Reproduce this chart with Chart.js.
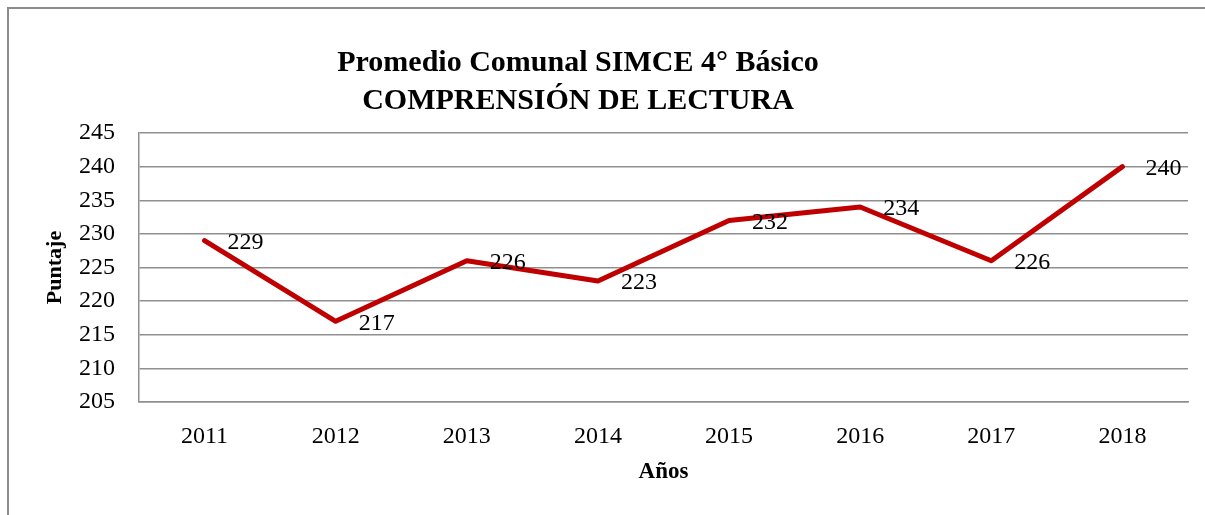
<!DOCTYPE html>
<html>
<head>
<meta charset="utf-8">
<script src="https://cdn.jsdelivr.net/npm/chart.js@4"></script>
<style>
  html, body { margin: 0; padding: 0; background: #fff; }
  #wrap { width: 1205px; height: 515px; position: relative; }
</style>
</head>
<body>
<div id="wrap"><canvas id="simceChart"></canvas></div>
<script>
const years = ['2011', '2012', '2013', '2014', '2015', '2016', '2017', '2018'];
const puntajes = [229, 217, 226, 223, 232, 234, 226, 240];
const yTicks = [205, 210, 215, 220, 225, 230, 235, 240, 245];
const titleLines = ['Promedio Comunal SIMCE 4° Básico', 'COMPRENSIÓN DE LECTURA'];

const serif = "'Liberation Serif', 'Times New Roman', serif";
const gridGrey = '#8f8f8f';

// marco exterior del gráfico (solo lados superior e izquierdo visibles)
const frame = {
    id: 'frame',
    beforeDraw(chart) {
        const ctx = chart.ctx;
        ctx.save();
        ctx.strokeStyle = '#8c8c8c';
        ctx.lineWidth = 2;
        ctx.beginPath();
        ctx.moveTo(8, chart.height);
        ctx.lineTo(8, 8);
        ctx.lineTo(chart.width, 8);
        ctx.stroke();
        ctx.restore();
    }
};

// título en dos líneas
const bigTitle = {
    id: 'bigTitle',
    afterDraw(chart) {
        const ctx = chart.ctx;
        ctx.save();
        ctx.fillStyle = '#000';
        ctx.font = "bold 30px " + serif;
        ctx.textAlign = 'center';
        ctx.textBaseline = 'middle';
        ctx.fillText(titleLines[0], 578, 63);
        ctx.fillText(titleLines[1], 578, 101);
        ctx.restore();
    }
};

// etiquetas de valor a la derecha de cada punto
const valueLabels = {
    id: 'valueLabels',
    afterDatasetsDraw(chart) {
        const ctx = chart.ctx;
        const meta = chart.getDatasetMeta(0);
        ctx.save();
        ctx.fillStyle = '#000';
        ctx.font = "24px " + serif;
        ctx.textAlign = 'left';
        ctx.textBaseline = 'middle';
        meta.data.forEach(function (pt, i) {
            ctx.fillText(String(puntajes[i]), pt.x + 23, pt.y + 2);
        });
        ctx.restore();
    }
};

const ctx = document.getElementById('simceChart').getContext('2d');

new Chart(ctx, {
    type: 'line',
    data: {
        labels: years,
        datasets: [{
            label: 'Puntaje',
            data: puntajes,
            borderColor: '#C00000',
            borderWidth: 5,
            borderCapStyle: 'round',
            borderJoinStyle: 'round',
            pointRadius: 0,
            pointHoverRadius: 0,
            fill: false,
            tension: 0
        }]
    },
    options: {
        responsive: true,
        maintainAspectRatio: false,
        animation: false,
        layout: {
            padding: { left: 0, right: 17, top: 133, bottom: 0 }
        },
        scales: {
            x: {
                offset: true,
                grid: { display: false, drawTicks: false },
                border: { display: true, color: gridGrey, width: 1.5 },
                ticks: {
                    color: '#000',
                    font: { family: serif, size: 24 },
                    padding: 20,
                    maxRotation: 0
                },
                title: {
                    display: true,
                    text: 'Años',
                    color: '#000',
                    font: { family: serif, size: 23, weight: 'bold' },
                    padding: { top: 0, bottom: 29 }
                },
                afterFit(scale) { scale.height = 515 - 402; }
            },
            y: {
                min: 205,
                max: 245,
                afterBuildTicks(scale) {
                    scale.ticks = yTicks.map(function (v) { return { value: v }; });
                },
                grid: { color: gridGrey, lineWidth: 1.5, drawTicks: false },
                border: { display: true, color: gridGrey, width: 1.5 },
                ticks: {
                    color: '#000',
                    font: { family: serif, size: 24 },
                    padding: 24
                },
                title: {
                    display: true,
                    text: 'Puntaje',
                    color: '#000',
                    font: { family: serif, size: 22, weight: 'bold' },
                    padding: { top: 42, bottom: 0 }
                },
                afterFit(scale) { scale.width = 139; }
            }
        },
        plugins: {
            legend: { display: false },
            title: { display: false },
            tooltip: { enabled: false }
        }
    },
    plugins: [frame, bigTitle, valueLabels]
});
</script>
</body>
</html>
